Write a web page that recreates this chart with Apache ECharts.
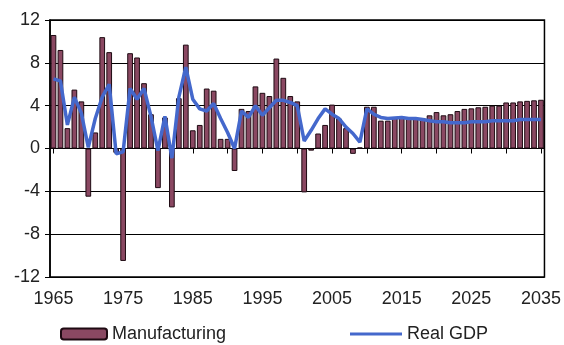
<!DOCTYPE html>
<html>
<head>
<meta charset="utf-8">
<script src="https://cdn.jsdelivr.net/npm/echarts@6/dist/echarts.min.js"></script>
<style>
html,body{margin:0;padding:0;background:#fff;}
#c{width:564px;height:345px;}
</style>
</head>
<body>
<div id="c"></div>
<script>
var years = [];
for (var y = 1965; y <= 2035; y++) years.push(String(y));

var manufacturing = [
  10.6, 9.2, 1.9, 5.5, 4.4, -4.5, 1.5, 10.4, 9.0, -0.4,
  -10.5, 8.9, 8.5, 6.1, 3.2, -3.7, 2.9, -5.5, 4.7, 9.7,
  1.7, 2.2, 5.6, 5.4, 0.9, 0.9, -2.1, 3.7, 3.5, 5.8,
  5.2, 4.9, 8.4, 6.6, 4.9, 4.4, -4.1, -0.2, 1.4, 2.2,
  4.1, 2.8, 1.9, -0.5, 0.1, 3.9, 3.9, 2.6, 2.6, 2.9,
  2.9, 2.9, 2.85, 2.85, 3.1, 3.4, 3.1, 3.2, 3.5, 3.7,
  3.75, 3.85, 3.9, 4.0, 4.0, 4.3, 4.3, 4.4, 4.45, 4.5,
  4.55
];

var realGDP = [
  6.5, 6.3, 2.2, 4.8, 3.3, 0.1, 2.8, 4.8, 6.0, -0.5,
  -0.3, 5.6, 4.6, 5.6, 3.0, -0.2, 3.0, -0.9, 4.8, 7.6,
  4.6, 3.7, 3.5, 4.2, 2.8, 1.5, 0.0, 3.5, 2.9, 4.0,
  3.1, 3.8, 4.5, 4.5, 4.3, 4.0, 0.7, 1.7, 2.8, 3.7,
  3.2, 2.8, 2.0, 1.4, 0.6, 3.7, 3.2, 2.9, 2.8, 2.85,
  2.9, 2.8, 2.8, 2.7, 2.6, 2.5, 2.5, 2.4, 2.4, 2.4,
  2.5, 2.5, 2.5, 2.6, 2.6, 2.6, 2.6, 2.7, 2.7, 2.7,
  2.7
];

var yMin = -12, yMax = 12, yStep = 4;
var FONT = 'Liberation Sans, Arial, sans-serif';

var chart = echarts.init(document.getElementById('c'), null, {renderer: 'canvas'});
chart.setOption({
  backgroundColor: '#ffffff',
  animation: false,
  textStyle: {fontFamily: FONT},
  grid: {
    left: 50, top: 20, width: 495, height: 257,
    show: true, borderColor: '#000', borderWidth: 1.5, backgroundColor: 'transparent'
  },
  legend: [
    {
      data: [{name: 'Manufacturing', icon: 'roundRect'}],
      left: 60, top: 325,
      itemWidth: 46, itemHeight: 11, itemGap: 6,
      textStyle: {fontSize: 18, color: '#222', fontFamily: FONT},
      padding: 0
    },
    {
      data: [{name: 'Real GDP', icon: 'rect'}],
      left: 350, top: 325,
      itemWidth: 52, itemHeight: 3, itemGap: 6,
      textStyle: {fontSize: 18, color: '#222', fontFamily: FONT},
      padding: 0
    }
  ],
  xAxis: [
    {
      type: 'category',
      data: years,
      boundaryGap: true,
      position: 'bottom',
      axisLine: {show: true, onZero: true, lineStyle: {color: '#000', width: 1}},
      axisTick: {show: true, alignWithLabel: true, interval: 4, length: 5, lineStyle: {color: '#000', width: 1}},
      axisLabel: {show: false},
      splitLine: {show: false}
    },
    {
      type: 'category',
      data: years,
      boundaryGap: true,
      position: 'bottom',
      axisLine: {show: false, onZero: false},
      axisTick: {show: false},
      axisLabel: {show: true, interval: 9, fontSize: 18, color: '#222', margin: 13, fontFamily: FONT},
      splitLine: {show: false}
    }
  ],
  yAxis: {
    type: 'value',
    min: yMin, max: yMax, interval: yStep,
    axisLine: {show: true, lineStyle: {color: '#000', width: 1.5}},
    axisTick: {show: true, length: 5, lineStyle: {color: '#000'}},
    axisLabel: {fontSize: 18, color: '#222', margin: 10, fontFamily: FONT},
    splitLine: {show: true, lineStyle: {color: '#000', width: 1}}
  },
  series: [
    {
      name: 'Manufacturing',
      type: 'bar',
      xAxisIndex: 0,
      data: manufacturing,
      barCategoryGap: '18%',
      itemStyle: {color: '#8a4862', borderColor: '#1e0a12', borderWidth: 1}
    },
    {
      name: 'Real GDP',
      type: 'line',
      xAxisIndex: 0,
      data: realGDP,
      symbol: 'none',
      lineStyle: {color: '#4468cc', width: 3.5},
      itemStyle: {color: '#4468cc'},
      z: 3
    }
  ]
});
</script>
</body>
</html>
